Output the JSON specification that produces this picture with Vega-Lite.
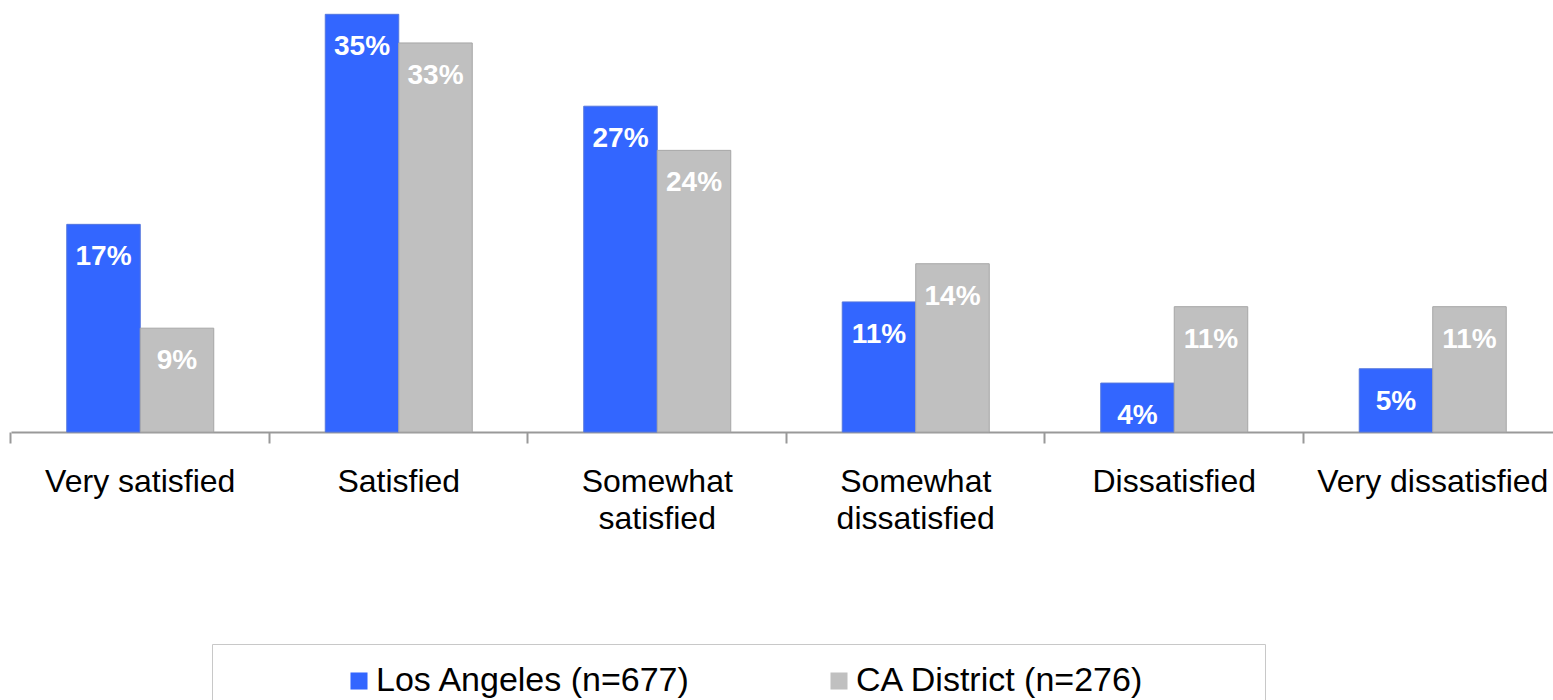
{
  "$schema": "https://vega.github.io/schema/vega-lite/v6.json",
  "width": 1542,
  "height": 432,
  "autosize": {"type": "none"},
  "padding": {"left": 11, "top": 0, "right": 0, "bottom": 268},
  "background": "white",
  "config": {
    "view": {"stroke": null},
    "font": "Liberation Sans"
  },
  "data": {
    "values": [
      {"category": "Very satisfied", "series": "Los Angeles (n=677)", "value": 17.4, "label": "17%"},
      {"category": "Very satisfied", "series": "CA District (n=276)", "value": 8.7, "label": "9%"},
      {"category": "Satisfied", "series": "Los Angeles (n=677)", "value": 35.0, "label": "35%"},
      {"category": "Satisfied", "series": "CA District (n=276)", "value": 32.6, "label": "33%"},
      {"category": "Somewhat satisfied", "series": "Los Angeles (n=677)", "value": 27.3, "label": "27%"},
      {"category": "Somewhat satisfied", "series": "CA District (n=276)", "value": 23.6, "label": "24%"},
      {"category": "Somewhat dissatisfied", "series": "Los Angeles (n=677)", "value": 10.9, "label": "11%"},
      {"category": "Somewhat dissatisfied", "series": "CA District (n=276)", "value": 14.1, "label": "14%"},
      {"category": "Dissatisfied", "series": "Los Angeles (n=677)", "value": 4.1, "label": "4%"},
      {"category": "Dissatisfied", "series": "CA District (n=276)", "value": 10.5, "label": "11%"},
      {"category": "Very dissatisfied", "series": "Los Angeles (n=677)", "value": 5.3, "label": "5%"},
      {"category": "Very dissatisfied", "series": "CA District (n=276)", "value": 10.5, "label": "11%"}
    ]
  },
  "encoding": {
    "x": {
      "field": "category",
      "type": "nominal",
      "sort": ["Very satisfied", "Satisfied", "Somewhat satisfied", "Somewhat dissatisfied", "Dissatisfied", "Very dissatisfied"],
      "scale": {"range": [0, 1551], "paddingInner": 0.4313, "paddingOuter": 0.2157},
      "axis": {
        "title": null,
        "labelAngle": 0,
        "bandPosition": -0.3793,
        "domainColor": "#999999",
        "domainWidth": 2,
        "tickColor": "#999999",
        "tickWidth": 2,
        "tickSize": 11,
        "labelFontSize": 32,
        "labelColor": "#000000",
        "labelFont": "Liberation Sans",
        "labelPadding": 23,
        "labelBaseline": "top",
        "labelLineHeight": 37,
        "labelLimit": 0,
        "labelOverlap": false,
        "labelExpr": "datum.label == 'Somewhat satisfied' ? ['Somewhat', 'satisfied'] : datum.label == 'Somewhat dissatisfied' ? ['Somewhat', 'dissatisfied'] : datum.label"
      }
    },
    "xOffset": {
      "field": "series",
      "type": "nominal",
      "sort": ["Los Angeles (n=677)", "CA District (n=276)"],
      "scale": {"paddingInner": 0, "paddingOuter": 0}
    },
    "y": {
      "field": "value",
      "type": "quantitative",
      "scale": {"domain": [0, 36.2], "nice": false, "zero": true},
      "axis": null
    }
  },
  "layer": [
    {
      "mark": {"type": "bar", "strokeWidth": 1},
      "encoding": {
        "color": {
          "field": "series",
          "type": "nominal",
          "sort": ["Los Angeles (n=677)", "CA District (n=276)"],
          "scale": {"domain": ["Los Angeles (n=677)", "CA District (n=276)"], "range": ["#3366FF", "#C0C0C0"]},
          "legend": {
            "title": null,
            "orient": "none",
            "direction": "horizontal",
            "legendX": 201,
            "legendY": 644,
            "padding": 20,
            "strokeColor": "#C8C8C8",
            "fillColor": "white",
            "symbolType": "square",
            "symbolSize": 290,
            "symbolStrokeWidth": 0,
            "symbolOffset": 110,
            "labelOffset": 0,
            "columnPadding": 21,
            "labelFontSize": 34,
            "labelFont": "Liberation Sans",
            "labelColor": "#000000",
            "labelLimit": 0,
            "labelExpr": "datum.label == 'CA District (n=276)' ? datum.label + '\u2800\u2800\u2800\u2800' : datum.label"
          }
        },
        "stroke": {
          "field": "series",
          "type": "nominal",
          "scale": {"domain": ["Los Angeles (n=677)", "CA District (n=276)"], "range": ["#5577dd", "#A6A6A6"]},
          "legend": null
        }
      }
    },
    {
      "mark": {"type": "text", "color": "white", "fontWeight": "bold", "fontSize": 28, "font": "Liberation Sans", "baseline": "middle", "align": "center", "dy": 33},
      "encoding": {
        "text": {"field": "label"}
      }
    }
  ]
}
